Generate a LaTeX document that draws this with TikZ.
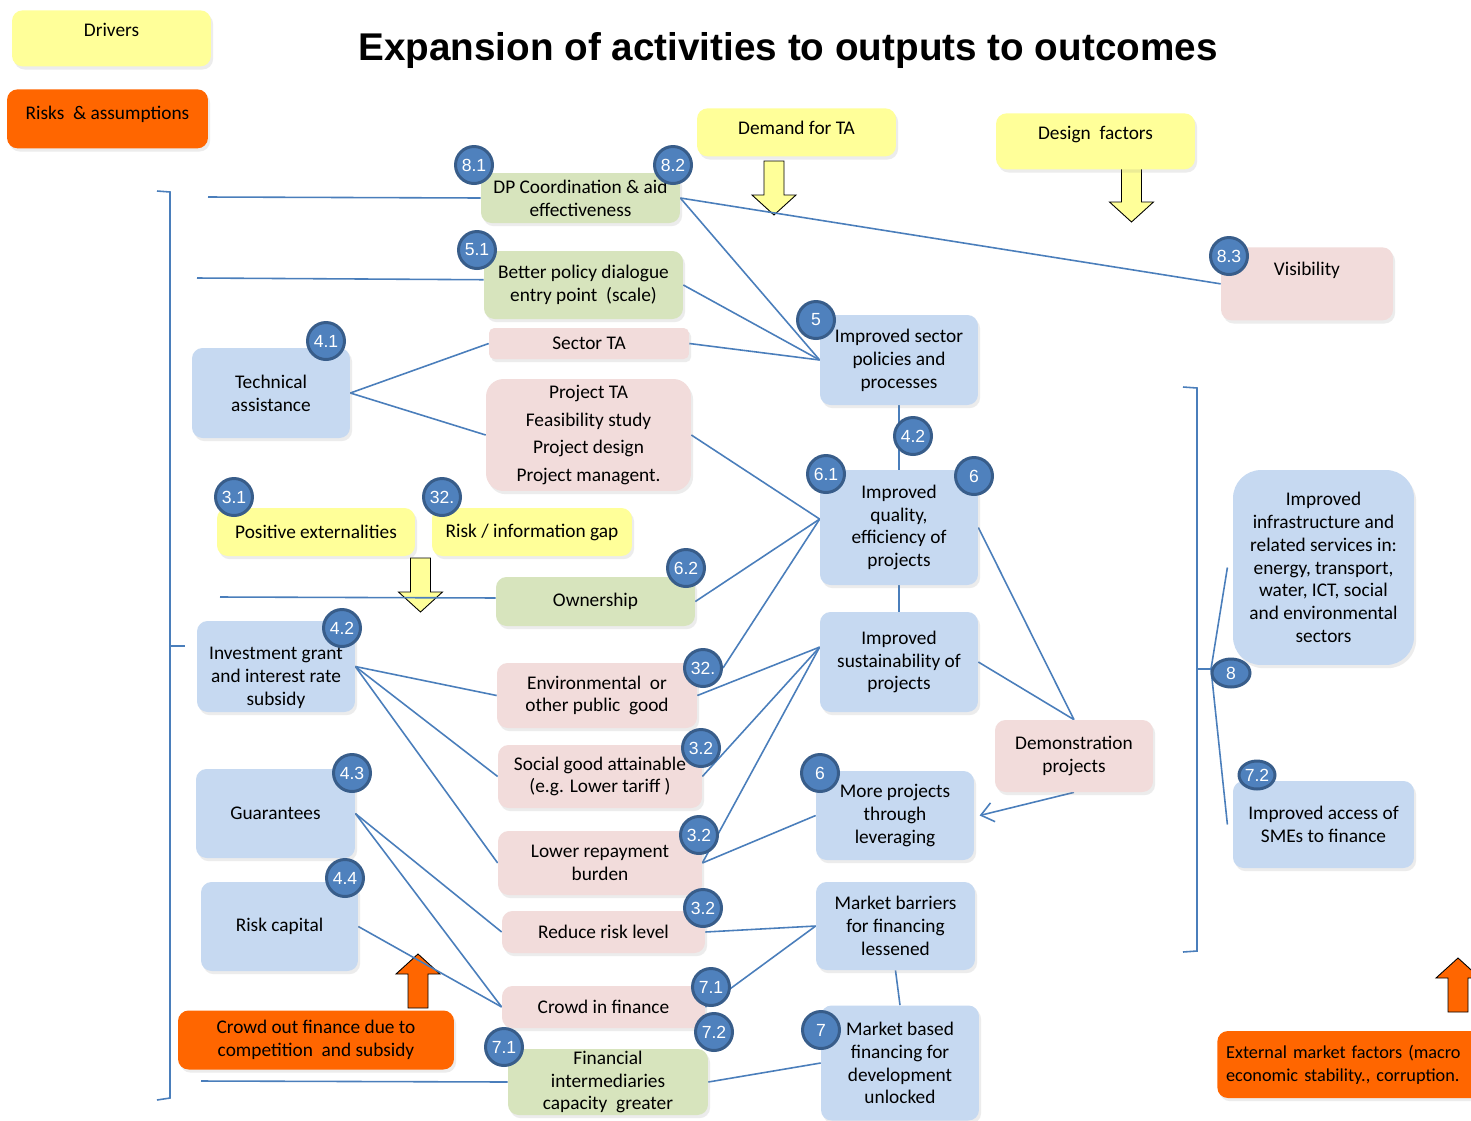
\documentclass[tikz,border=0pt]{standalone}
\usepackage{fontspec}
\setmainfont{Carlito}
\newfontfamily\arialfont{Liberation Sans}
\usepackage{tikz}
\usetikzlibrary{shapes,arrows.meta,positioning,shadows,backgrounds}
\definecolor{boxyellow}{HTML}{FFFF99}
\definecolor{boxorange}{HTML}{FF6600}
\definecolor{boxgreen}{HTML}{D7E4BD}
\definecolor{boxpink}{HTML}{F2DCDB}
\definecolor{boxblue}{HTML}{C6D9F1}
\definecolor{badgefill}{HTML}{4F81BD}
\definecolor{badgeline}{HTML}{385D8A}
\definecolor{linkblue}{HTML}{4A7EBB}

\begin{document}
\begin{tikzpicture}[x=0.02cm, y=-0.02cm,
  box/.style={rectangle, rounded corners=6pt, align=center, inner sep=1pt, font=\fontsize{11}{13}\selectfont, drop shadow={shadow xshift=1.2pt, shadow yshift=-1.8pt, opacity=0.15}},
  yellowbox/.style={box, fill=boxyellow}, orangebox/.style={box, fill=boxorange},
  greenbox/.style={box, fill=boxgreen}, pinkbox/.style={box, fill=boxpink}, bluebox/.style={box, fill=boxblue},
  badge/.style={circle, fill=badgefill, draw=badgeline, line width=1.7pt, minimum size=0.74cm, inner sep=0pt, text=white, font=\arialfont\fontsize{10}{12}\selectfont},
  conn/.style={draw=linkblue, line width=0.9pt}]
\useasboundingbox (0,0) rectangle (1471,1120);
\node[font=\arialfont\bfseries\fontsize{22}{26}\selectfont] (title) at (788,51) {Expansion of activities to outputs to outcomes};
\node[yellowbox, minimum width=3.98cm, text height=0.52cm, text depth=0.6cm, inner ysep=0pt, anchor=north] (drv) at (111.5,10) {Drivers};
\node[orangebox, minimum width=4.02cm, text height=0.6cm, text depth=0.58cm, inner ysep=0pt, anchor=north] (rsk) at (107.5,89) {Risks\ \ \& assumptions};
\node[yellowbox, minimum width=3.98cm, text height=0.52cm, text depth=0.44cm, inner ysep=0pt, anchor=north] (dem) at (796.5,108) {Demand for TA};
\node[yellowbox, minimum width=3.98cm, text height=0.52cm, text depth=0.6cm, inner ysep=0pt, anchor=north] (des) at (1095.5,113) {Design\ \ factors};
\node[pinkbox, minimum width=3.44cm, text height=0.56cm, text depth=0.9cm, inner ysep=0pt, anchor=north] (vis) at (1307,247) {Visibility};
\node[greenbox, minimum width=3.98cm, minimum height=1.0cm] (dp) at (580.5,198) {DP Coordination \& aid\\effectiveness};
\node[greenbox, minimum width=3.98cm, minimum height=1.36cm] (pol) at (583.5,285) {Better policy dialogue\\entry point\ \ (scale)};
\node[pinkbox, rounded corners=3pt, minimum width=4.0cm, minimum height=0.62cm] (sta) at (589,343.5) {Sector TA};
\node[pinkbox, rounded corners=10pt, minimum width=4.1cm, minimum height=2.24cm] (pta) at (588.5,435) {Project TA\\[2.7pt]Feasibility study\\[2.7pt]Project design\\[2.7pt]Project managent.};
\node[bluebox, minimum width=3.16cm, minimum height=1.8cm] (ta) at (271,393) {Technical\\assistance};
\node[yellowbox, minimum width=3.96cm, minimum height=0.96cm] (pos) at (316,532) {Positive externalities};
\node[yellowbox, minimum width=4.0cm, minimum height=0.96cm] (rig) at (532,532) {Risk / information gap};
\node[greenbox, minimum width=3.98cm, minimum height=0.98cm] (own) at (595.5,601.5) {Ownership};
\node[bluebox, minimum width=3.16cm, minimum height=1.82cm] (inv) at (276,666.5) {\rule{0pt}{20pt}Investment grant\\and interest rate\\subsidy};
\node[pinkbox, minimum width=4.0cm, minimum height=1.3cm] (env) at (597,695.5) {Environmental\ \ or\\other public\ \ good};
\node[pinkbox, minimum width=4.08cm, minimum height=1.26cm] (soc) at (600,776.5) {Social good attainable\\(e.g. Lower tariff )};
\node[pinkbox, minimum width=4.08cm, minimum height=1.28cm] (low) at (600,863) {Lower repayment\\burden};
\node[pinkbox, minimum width=4.06cm, minimum height=0.84cm] (red) at (603.5,932) {Reduce risk level};
\node[pinkbox, minimum width=4.06cm, minimum height=0.84cm] (cin) at (603.5,1007) {Crowd in finance};
\node[greenbox, minimum width=4.0cm, minimum height=1.32cm] (fin) at (608,1082) {Financial\\intermediaries\\capacity\ \ greater};
\node[orangebox, minimum width=5.52cm, minimum height=1.18cm] (cout) at (316,1040) {Crowd out finance due to\\competition\ \ and subsidy};
\node[bluebox, minimum width=3.18cm, minimum height=1.78cm] (gua) at (275.5,813.5) {Guarantees};
\node[bluebox, minimum width=3.14cm, minimum height=1.78cm] (rc) at (279.5,926.5) {Risk capital};
\node[bluebox, minimum width=3.16cm, minimum height=1.8cm] (isp) at (899,360) {Improved sector\\policies and\\processes};
\node[bluebox, minimum width=3.16cm, minimum height=2.3cm] (iqe) at (899,527.5) {Improved\\quality,\\efficiency of\\projects};
\node[bluebox, minimum width=3.16cm, minimum height=2.0cm] (isu) at (899,662) {Improved\\sustainability of\\projects};
\node[pinkbox, minimum width=3.16cm, minimum height=1.44cm] (demo) at (1074,756) {Demonstration\\projects};
\node[bluebox, minimum width=3.16cm, minimum height=1.78cm] (mpl) at (895,815.5) {More projects\\through\\leveraging};
\node[bluebox, minimum width=3.18cm, minimum height=1.76cm] (mbf) at (895.5,926) {Market barriers\\for financing\\lessened};
\node[bluebox, minimum width=3.16cm, minimum height=2.3cm] (mbd) at (900,1063) {Market based\\financing for\\development\\unlocked};
\node[bluebox, rounded corners=16pt, minimum width=3.62cm, minimum height=3.9cm] (inf) at (1323.5,567.5) {Improved\\infrastructure and\\related services in:\\energy, transport,\\water, ICT, social\\and environmental\\sectors};
\node[bluebox, minimum width=3.62cm, minimum height=1.74cm] (sme) at (1323.5,824.5) {Improved access of\\SMEs to finance};
\node[orangebox, align=left, inner xsep=5pt, text width=5.6cm, minimum height=1.34cm, anchor=west, font=\fontsize{10.4}{13}\selectfont] (ext) at (1217,1064.5) {External market factors (macro\\economic stability., corruption.};
\node[badge] (n81) at (474,165) {8.1};
\node[badge] (n82) at (673,165) {8.2};
\node[badge] (n51) at (477,250) {5.1};
\node[badge] (n41) at (326,341) {4.1};
\node[badge] (n31) at (234,497) {3.1};
\node[badge] (n32a) at (442,497) {32.};
\node[badge] (n62) at (686,568) {6.2};
\node[badge] (n42a) at (342,628) {4.2};
\node[badge] (n32b) at (703,668) {32.};
\node[badge] (n32c) at (701,748) {3.2};
\node[badge] (n32d) at (699,835) {3.2};
\node[badge] (n32e) at (703,908) {3.2};
\node[badge] (n71a) at (711,987) {7.1};
\node[badge] (n72a) at (714,1032) {7.2};
\node[badge] (n71b) at (504,1047) {7.1};
\node[badge] (n43) at (352,773) {4.3};
\node[badge] (n44) at (345,878) {4.4};
\node[badge] (n5) at (816,320) {5};
\node[badge] (n42b) at (913,436) {4.2};
\node[badge] (n61) at (826,474) {6.1};
\node[badge] (n6a) at (974,476) {6};
\node[badge] (n6b) at (820,773) {6};
\node[badge] (n7) at (821,1030) {7};
\node[badge] (n83) at (1229,256) {8.3};
\node[badge, ellipse, minimum width=0.72cm, minimum height=0.56cm] (n72b) at (1257,775) {7.2};
\node[badge, ellipse, minimum width=0.76cm, minimum height=0.56cm] (n8) at (1231,673) {8};
\begin{scope}[on background layer]
\fill[white] (0,0) rectangle (1471,1120);
\foreach \ax/\ay/\dir/\col in {774/161/1/boxyellow, 1131.5/168/1/boxyellow, 420.5/558/1/boxyellow, 418/1008/-1/boxorange, 1458/1012/-1/boxorange}
  \filldraw[fill=\col, draw=black, line width=0.5pt] ({\ax-10},\ay) -- ({\ax+10},\ay) -- ({\ax+10},{\ay+(\dir)*34}) -- ({\ax+22},{\ay+(\dir)*34}) -- (\ax,{\ay+(\dir)*54}) -- ({\ax-22},{\ay+(\dir)*34}) -- ({\ax-10},{\ay+(\dir)*34}) -- cycle;
\coordinate (ldp) at (208,197);
\coordinate (lpol) at (197,278);
\coordinate (lown) at (220,597);
\coordinate (lfin) at (201,1081);
\coordinate (rtip) at (1211,669);
\draw[conn] (157,191) -- (170,192) -- (170,1098) -- (157,1100);
\draw[conn] (170,646) -- (185,646);
\draw[conn] (1183,387) -- (1197,388) -- (1197,951) -- (1183,952);
\draw[conn] (1197,669) -- (rtip);
\draw[conn] (ldp) -- (dp.west);
\draw[conn] (lpol) -- ([yshift=3pt]pol.west);
\draw[conn] (lown) -- ([yshift=2pt]own.west);
\draw[conn] (lfin) -- (fin.west);
\draw[conn] (dp.east) -- (vis.west);
\draw[conn] (dp.east) -- (isp.west);
\draw[conn] (pol.east) -- (isp.west);
\draw[conn] (sta.east) -- (isp.west);
\draw[conn] (ta.east) -- (sta.west);
\draw[conn] (ta.east) -- (pta.west);
\draw[conn] (pta.east) -- ([yshift=4.8pt]iqe.west);
\draw[conn] (own.east) -- ([yshift=4.8pt]iqe.west);
\draw[conn] (n32b.east) -- ([yshift=4.8pt]iqe.west);
\draw[conn] (env.east) -- ([yshift=8.5pt]isu.west);
\draw[conn] (soc.east) -- ([yshift=8.5pt]isu.west);
\draw[conn] (low.east) -- ([yshift=8.5pt]isu.west);
\draw[conn] (low.east) -- (mpl.west);
\draw[conn] (isp.south) -- (iqe.north);
\draw[conn] (iqe.south) -- (isu.north);
\draw[conn] (iqe.east) -- (demo.north);
\draw[conn] (isu.east) -- (demo.north);
\draw[conn, -{Straight Barb[length=7pt, width=11pt]}] (demo.south) -- ([xshift=3pt]mpl.east);
\draw[conn] (inv.east) -- (env.west);
\draw[conn] (inv.east) -- (soc.west);
\draw[conn] (inv.east) -- (low.west);
\draw[conn] (gua.east) -- (red.west);
\draw[conn] (gua.east) -- (cin.west);
\draw[conn] (rc.east) -- (cin.west);
\draw[conn] (red.east) -- (mbf.west);
\draw[conn] (cin.east) -- (mbf.west);
\draw[conn] (mbf.south) -- (mbd.north);
\draw[conn] (fin.east) -- (mbd.west);
\draw[conn] (rtip) -- ([xshift=-3pt]inf.west);
\draw[conn] (rtip) -- ([xshift=-3pt]sme.west);
\end{scope}
\end{tikzpicture}
\end{document}
